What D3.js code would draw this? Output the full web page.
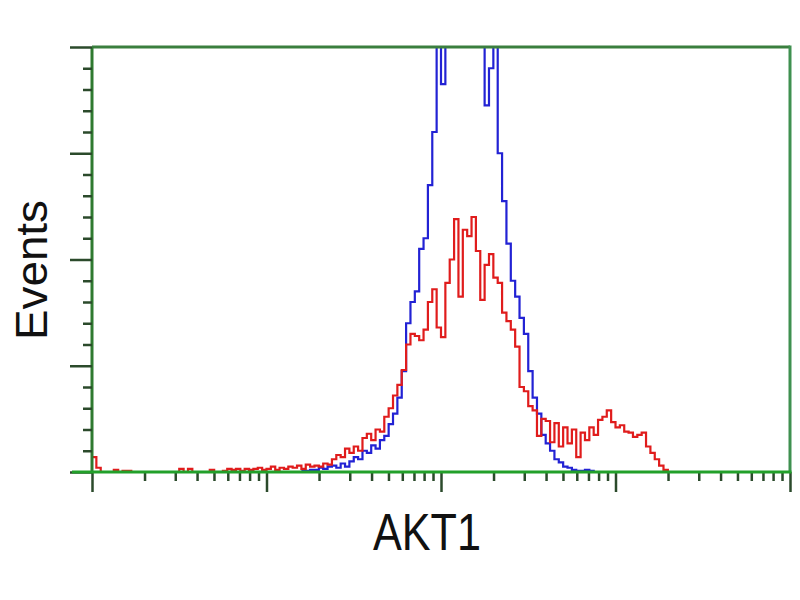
<!DOCTYPE html>
<html><head><meta charset="utf-8">
<script src="https://cdn.jsdelivr.net/npm/d3@7"></script>
<style>body{margin:0;background:#fff}</style>
</head><body><svg id="c" width="800" height="600"></svg>
<script>
// ---- data ----
const binsPerDecade = 40;
const xDomain = [1, 10000];
const xMajorTicks = [1, 10, 100, 1000, 10000];
const yDomain = [0, 400];
const yMajorTicks = [0, 100, 200, 300, 400];
const yMinorStep = 20;
const xLabel = "AKT1";
const yLabel = "Events";

const blueStart = 48;
const blueCounts = [1,1,2,2,4,3,5,6,4,8,5,10,14,12,20,18,25,22,30,34,45,55,70,95,140,160,170,210,220,270,320,420,365,430,460,480,500,510,500,490,470,420,345,380,410,300,255,215,180,165,145,130,95,70,55,35,27,20,12,9,5,4,2,1,1,2,1,0];

const redStart = 0;
const redCounts = [14,4,0,0,0,2,0,1,1,0,0,0,0,0,0,0,0,0,0,0,3,0,3,0,0,0,0,2,0,0,1,3,2,3,1,3,2,3,4,2,3,5,2,4,3,5,4,6,3,7,5,6,5,8,7,12,16,14,22,18,24,20,32,36,30,40,38,52,60,72,82,96,120,130,128,124,134,160,172,136,127,178,200,238,165,228,222,240,208,162,195,205,183,178,150,142,134,118,80,76,62,58,34,50,48,28,46,24,42,27,40,14,37,30,42,35,49,52,58,47,42,44,38,37,33,35,37,24,18,12,6,2,0];

// ---- layout ----
const L = 92, R = 790, T = 47, B = 472;
const FONT = "'Liberation Sans', Arial, Helvetica, sans-serif";
const svg = d3.select("#c");
const x = d3.scaleLog().domain(xDomain).range([L, R]);
const y = d3.scaleLinear().domain(yDomain).range([B, T]);

svg.append("defs").append("clipPath").attr("id","clip")
  .append("rect").attr("x", L).attr("y", T).attr("width", R - L).attr("height", B - T);

function pts(start, counts) {
  const p = counts.map((c, i) => [Math.pow(10, (start + i) / binsPerDecade), c]);
  p.push([Math.pow(10, (start + counts.length) / binsPerDecade), counts[counts.length - 1]]);
  return p;
}
const line = d3.line().x(d => x(d[0])).y(d => y(d[1])).curve(d3.curveStepAfter);

const g = svg.append("g").attr("clip-path", "url(#clip)");
g.append("path").attr("d", line(pts(blueStart, blueCounts)))
  .attr("fill", "none").attr("stroke", "#2222d4").attr("stroke-width", 2.2);
g.append("path").attr("d", line(pts(redStart, redCounts)))
  .attr("fill", "none").attr("stroke", "#e01c1c").attr("stroke-width", 2.2);

// frame
svg.append("line").attr("x1", L).attr("x2", R).attr("y1", T).attr("y2", T)
  .attr("stroke", "#3a7f3e").attr("stroke-width", 3);
svg.append("line").attr("x1", R).attr("x2", R).attr("y1", T - 1.5).attr("y2", B)
  .attr("stroke", "#3f9050").attr("stroke-width", 3);
svg.append("line").attr("x1", L).attr("x2", L).attr("y1", T).attr("y2", B)
  .attr("stroke", "#2f7a30").attr("stroke-width", 3);

// y ticks
const yMinor = d3.range(yDomain[0], yDomain[1] + 1, yMinorStep).filter(v => !yMajorTicks.includes(v));
const yAxisMinor = d3.axisLeft(y).tickValues(yMinor).tickSize(9).tickFormat("");
const yAxisMajor = d3.axisLeft(y).tickValues(yMajorTicks).tickSize(22).tickFormat("");
[yAxisMinor, yAxisMajor].forEach(ax => {
  const a = svg.append("g").attr("transform", `translate(${L},0)`).call(ax);
  a.select(".domain").remove();
  a.selectAll(".tick line").attr("stroke", "#2b4a2b").attr("stroke-width", 2.5);
});

// x ticks
const xMinor = [];
for (let d = 1; d < 10000; d *= 10) for (let m = 2; m <= 9; m++) xMinor.push(d * m);
const xAxisMinor = d3.axisBottom(x).tickValues(xMinor).tickSize(9).tickFormat("");
const xAxisMajor = d3.axisBottom(x).tickValues(xMajorTicks).tickSize(20).tickFormat("");
[xAxisMinor, xAxisMajor].forEach(ax => {
  const a = svg.append("g").attr("transform", `translate(0,${B})`).call(ax);
  a.select(".domain").remove();
  a.selectAll(".tick line").attr("stroke", "#2b4a2b").attr("stroke-width", 2.5);
});
svg.append("line").attr("x1", L - 20).attr("x2", R + 1.5).attr("y1", B).attr("y2", B)
  .attr("stroke", "#22a02a").attr("stroke-width", 3);

// labels
svg.append("text").text(xLabel)
  .attr("x", 427).attr("y", 550).attr("text-anchor", "middle")
  .attr("font-family", FONT).attr("font-size", 51)
  .attr("textLength", 108).attr("lengthAdjust", "spacingAndGlyphs").attr("fill", "#111");
svg.append("text").text(yLabel)
  .attr("transform", "translate(47,270) rotate(-90)").attr("text-anchor", "middle")
  .attr("font-family", FONT).attr("font-size", 45)
  .attr("textLength", 140).attr("lengthAdjust", "spacingAndGlyphs").attr("fill", "#111");
</script>
</body></html>
